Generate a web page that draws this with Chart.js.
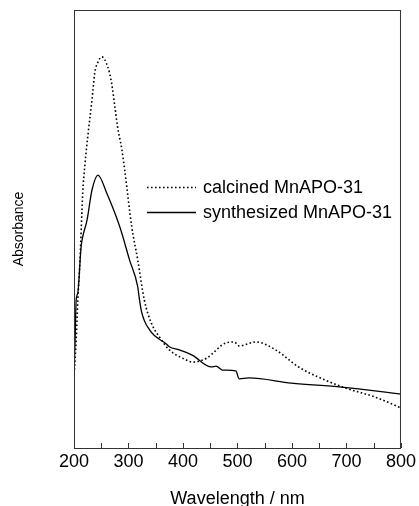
<!DOCTYPE html>
<html>
<head>
<meta charset="utf-8">
<script src="https://cdn.jsdelivr.net/npm/chart.js@4"></script>
<style>
  html, body { margin: 0; padding: 0; background: #fff; }
  #wrap { width: 419px; height: 506px; }
</style>
</head>
<body>
<div id="wrap"><canvas id="chart"></canvas></div>
<script>
// values (absorbance in arbitrary units, 0..100)
const calcinedWl = [200, 204, 207, 211, 216, 220, 226, 233, 238, 244, 251, 262, 269, 275, 280, 288, 293, 306, 317, 329, 342, 357, 375, 406, 417, 443, 479, 494, 503, 534, 570, 612, 661, 698, 753, 795, 800];
const calcinedAbs = [16.0, 24.7, 33.8, 42.9, 58.2, 64.6, 71.9, 79.5, 85.6, 88.1, 89.3, 87.0, 83.3, 77.9, 73.3, 68.0, 63.5, 50.5, 42.9, 33.8, 28.5, 25.3, 22.4, 20.1, 19.6, 20.5, 24.0, 24.2, 23.3, 24.2, 22.4, 18.5, 15.5, 13.7, 11.6, 9.4, 9.1];

const synthWl = [200, 202, 204, 207, 213, 216, 224, 233, 244, 260, 284, 302, 317, 319, 324, 339, 370, 375, 393, 417, 452, 461, 472, 497, 503, 521, 599, 691, 800];
const synthAbs = [16.0, 24.7, 33.8, 35.4, 45.9, 48.2, 52.1, 58.9, 62.3, 58.2, 50.5, 42.9, 36.8, 34.9, 31.1, 26.9, 23.7, 23.1, 22.4, 21.2, 18.5, 18.7, 17.8, 17.6, 15.8, 16.0, 14.8, 13.9, 12.3];

const xTicks = [200, 300, 400, 500, 600, 700, 800];
const xMinorTicks = [250, 350, 450, 550, 650, 750];

const labels = ['calcined MnAPO-31', 'synthesized MnAPO-31'];

const font = 'Liberation Sans, Arial, sans-serif';

function pts(xs, ys) {
  return xs.map((x, i) => ({ x: x, y: ys[i] }));
}

// frame, inward ticks and inner legend
const framePlugin = {
  id: 'frame',
  afterDraw(chart) {
    const ctx = chart.ctx;
    const a = chart.chartArea;
    const xs = chart.scales.x;
    ctx.save();
    ctx.strokeStyle = '#333';
    ctx.lineWidth = 1;
    ctx.strokeRect(a.left + 0.5, a.top + 0.5, a.right - a.left - 1, a.bottom - a.top);
    ctx.beginPath();
    xTicks.concat(xMinorTicks).forEach(v => {
      const px = Math.round(xs.getPixelForValue(v)) + 0.5;
      ctx.moveTo(px, a.bottom);
      ctx.lineTo(px, a.bottom - 5);
    });
    ctx.stroke();

    // legend inside plot
    const lx0 = 147, lx1 = 196, tx = 203;
    const rows = [187, 212];
    chart.data.datasets.forEach((ds, i) => {
      ctx.beginPath();
      ctx.strokeStyle = '#000';
      ctx.lineWidth = ds.borderWidth;
      ctx.setLineDash(ds.borderDash || []);
      ctx.moveTo(lx0, rows[i] + 0.5);
      ctx.lineTo(lx1, rows[i] + 0.5);
      ctx.stroke();
      ctx.setLineDash([]);
      ctx.fillStyle = '#000';
      ctx.font = '18px ' + font;
      ctx.textBaseline = 'middle';
      ctx.fillText(ds.label, tx, rows[i] + 1);
    });
    ctx.restore();
  }
};

new Chart(document.getElementById('chart'), {
  type: 'line',
  data: {
    datasets: [
      { label: labels[0], data: pts(calcinedWl, calcinedAbs), borderColor: '#000', borderWidth: 1.6, borderDash: [1.6, 2.4], pointRadius: 0, cubicInterpolationMode: 'monotone', fill: false },
      { label: labels[1], data: pts(synthWl, synthAbs), borderColor: '#000', borderWidth: 1.3, pointRadius: 0, cubicInterpolationMode: 'monotone', fill: false }
    ]
  },
  options: {
    responsive: true,
    maintainAspectRatio: false,
    animation: false,
    layout: { padding: { left: 11, right: 16, top: 10, bottom: 0 } },
    plugins: { legend: { display: false }, tooltip: { enabled: false } },
    scales: {
      x: {
        type: 'linear', min: 200, max: 800,
        afterBuildTicks: s => { s.ticks = xTicks.map(v => ({ value: v })); },
        grid: { display: false, drawTicks: false },
        border: { display: false },
        ticks: { color: '#000', font: { family: font, size: 18 }, padding: 3, maxRotation: 0 },
        title: { display: true, text: 'Wavelength / nm', color: '#000', font: { family: font, size: 18 }, padding: { top: 0, bottom: -4 } },
        afterFit: s => { s.height = 58; }
      },
      y: {
        min: 0, max: 100,
        grid: { display: false, drawTicks: false },
        border: { display: false },
        ticks: { display: false },
        title: { display: true, text: 'Absorbance', color: '#000', font: { family: font, size: 14 }, padding: 0 },
        afterFit: s => { s.width = 63; }
      }
    }
  },
  plugins: [framePlugin]
});
</script>
</body>
</html>
